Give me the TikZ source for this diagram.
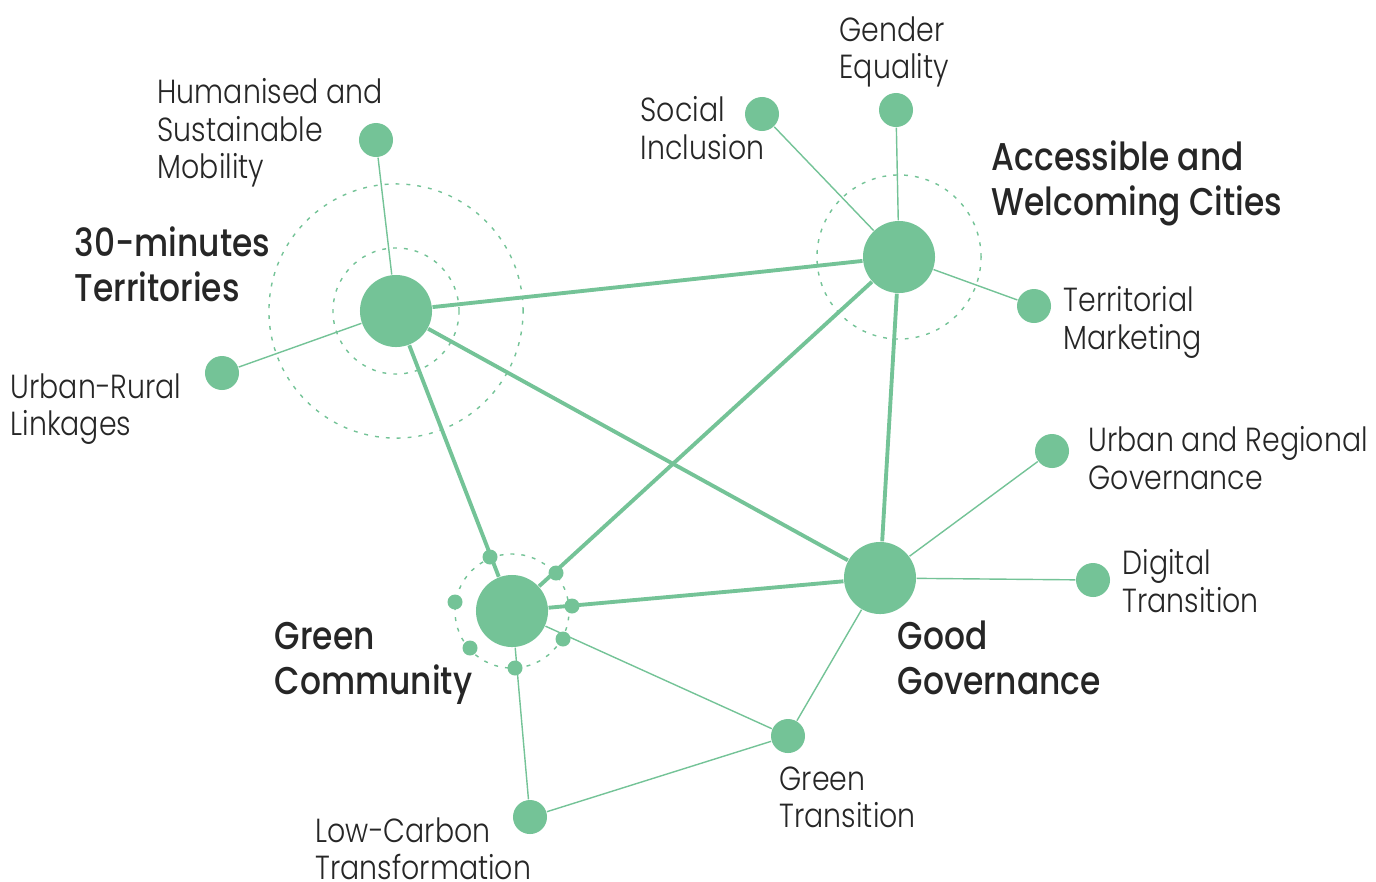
\documentclass[tikz,border=0pt]{standalone}
\usepackage{fontspec}
\setmainfont{Poppins}[UprightFont=* Light,BoldFont=* Medium,FakeStretch=0.85]
\usepackage{tikz}
\usetikzlibrary{arrows,calc,positioning}
\definecolor{leafgreen}{RGB}{116,195,151}

\begin{document}
\begin{tikzpicture}[x=0.01cm,y=-0.01cm,
	hub/.style={circle,fill=leafgreen,inner sep=0,minimum size=0.72cm},
	leaf/.style={circle,fill=leafgreen,inner sep=0,minimum size=0.34cm},
	dot/.style={circle,fill=leafgreen,inner sep=0,minimum size=0.15cm},
	thick link/.style={draw=leafgreen,line width=1.1pt},
	thin link/.style={draw=leafgreen,line width=0.4pt},
	ring/.style={draw=leafgreen,line width=0.4pt,dash pattern=on 1.1pt off 2pt},
	lbl/.style={anchor=north west,inner sep=0,align=left,font=\fontsize{9.5}{10.6}\selectfont,text=black!85},
	head/.style={anchor=north west,inner sep=0,align=left,font=\fontsize{11}{12.8}\selectfont\bfseries,text=black!85}]
			\useasboundingbox (0,0) rectangle (1376,881);
			% hubs
			\node[hub] (t30) at (396,311) {};
			\node[hub] (awc) at (899,257) {};
			\node[hub] (gg) at (880,578) {};
			\node[hub] (gc) at (512,611) {};
			% rings
			\draw[ring] (t30) circle[radius=0.63cm];
			\draw[ring] (t30) circle[radius=1.27cm];
			\draw[ring] (awc) circle[radius=0.82cm];
			\draw[ring] (gc) circle[radius=0.57cm];
			% leaves
			\node[leaf] (hum) at (376,140) {};
			\node[leaf] (urr) at (222,373) {};
			\node[leaf] (soc) at (762,114) {};
			\node[leaf] (gen) at (896,110) {};
			\node[leaf] (ter) at (1034,306) {};
			\node[leaf] (urg) at (1052,451) {};
			\node[leaf] (dig) at (1093,580) {};
			\node[leaf] (grt) at (788,736) {};
			\node[leaf] (low) at (530,817) {};
			% links between hubs
			\draw[thick link] (t30) to (awc);
			\draw[thick link] (t30) to (gg);
			\draw[thick link] (t30) to (gc);
			\draw[thick link] (awc) to (gc);
			\draw[thick link] (awc) to (gg);
			\draw[thick link] (gg) to (gc);
			% links to leaves
			\draw[thin link] (t30) to (hum);
			\draw[thin link] (t30) to (urr);
			\draw[thin link] (awc) to (soc);
			\draw[thin link] (awc) to (gen);
			\draw[thin link] (awc) to (ter);
			\draw[thin link] (gg) to (urg);
			\draw[thin link] (gg) to (dig);
			\draw[thin link] (gg) to (grt);
			\draw[thin link] (gc) to (grt);
			\draw[thin link] (gc) to (low);
			\draw[thin link] (grt) to (low);
			% dots on the green community ring
			\node[dot] (d1) at (490,557) {};
			\node[dot] (d2) at (556,573) {};
			\node[dot] (d3) at (572,606) {};
			\node[dot] (d4) at (563,639) {};
			\node[dot] (d5) at (515,668) {};
			\node[dot] (d6) at (470,648) {};
			\node[dot] (d7) at (455,602) {};
			% labels
			\node[head] (t30lbl) at (74,226) {30-minutes\\Territories};
			\node[head] (awclbl) at (991,140) {Accessible and\\Welcoming Cities};
			\node[head] (gclbl) at (274,622) {Green\\Community};
			\node[head] (gglbl) at (897,620) {Good\\Governance};
			\node[lbl] (humlbl) at (157,78) {Humanised and\\Sustainable\\Mobility};
			\node[lbl] (urrlbl) at (10,373) {Urban-Rural\\Linkages};
			\node[lbl] (soclbl) at (640,96) {Social\\Inclusion};
			\node[lbl] (genlbl) at (839,16) {Gender\\Equality};
			\node[lbl] (terlbl) at (1063,286) {Territorial\\Marketing};
			\node[lbl] (urglbl) at (1088,426) {Urban and Regional\\Governance};
			\node[lbl] (diglbl) at (1122,549) {Digital\\Transition};
			\node[lbl] (grtlbl) at (779,766) {Green\\Transition};
			\node[lbl] (lowlbl) at (315,817) {Low-Carbon\\Transformation};
\end{tikzpicture}
\end{document}
